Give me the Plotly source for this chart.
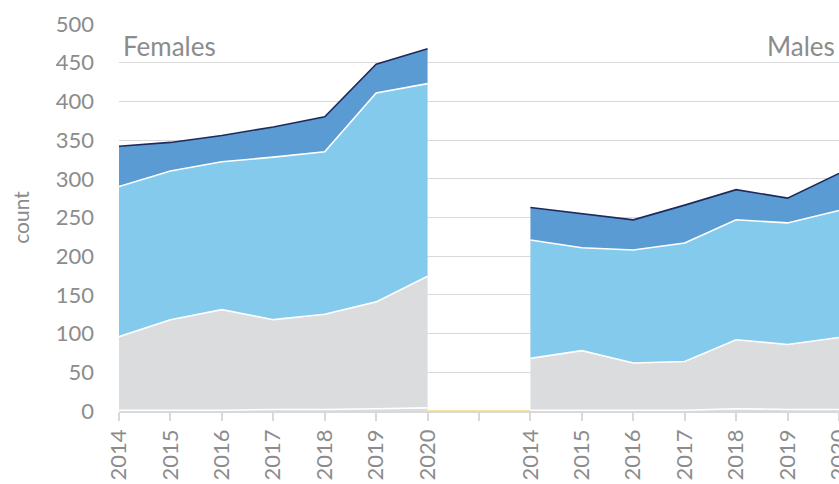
import plotly.graph_objects as go

YEARS = ["2014", "2015", "2016", "2017", "2018", "2019", "2020"]

# stacked layers, bottom to top
females_other = [1, 1, 1, 2, 2, 3, 4]
females_grey = [95, 117, 130, 116, 123, 138, 170]
females_light = [194, 192, 191, 210, 210, 270, 249]
females_dark = [52, 37, 34, 39, 45, 37, 45]

males_other = [1, 1, 1, 1, 3, 2, 2]
males_grey = [67, 77, 61, 63, 89, 84, 93]
males_light = [153, 133, 146, 153, 155, 157, 164]
males_dark = [42, 44, 39, 49, 39, 32, 48]

GAP_VALUES = [0, 0, 0]

GREY_TEXT = "#8c8c8c"
GRID = "#d9d9d9"
LAYERS = [
    ("other", "#dcdcde", "white"),
    ("grey", "#dbdcde", "white"),
    ("light", "#84caed", "white"),
    ("dark", "#5b9bd3", "#1f2a5c"),
]

n = len(YEARS)
x_f = list(range(n))
x_m = list(range(n + 1, 2 * n + 1))
x_gap = [n - 1, n, n + 1]

fig = go.Figure()

fig.add_trace(go.Scatter(
    x=x_gap, y=GAP_VALUES, mode="lines",
    line=dict(color="#f2c744", width=1), hoverinfo="skip", showlegend=False,
))

for group, xs, series in [
    ("f", x_f, [females_other, females_grey, females_light, females_dark]),
    ("m", x_m, [males_other, males_grey, males_light, males_dark]),
]:
    for (name, fill, line), vals in zip(LAYERS, series):
        fig.add_trace(go.Scatter(
            x=xs, y=vals, name=name, stackgroup=group, mode="lines",
            line=dict(color=line, width=1.6), fillcolor=fill,
            showlegend=False,
        ))

tickvals = list(range(2 * n + 1))
ticktext = YEARS + [""] + YEARS

fig.update_xaxes(
    range=[0, 2 * n], tickmode="array", tickvals=tickvals, ticktext=ticktext,
    tickangle=-90, showgrid=False, zeroline=False,
    showline=True, linecolor=GRID, linewidth=1.5,
    ticks="outside", ticklen=8, tickcolor=GRID, tickwidth=1.5,
    ticklabeloverflow="allow", automargin=False,
    tickfont=dict(size=22, color=GREY_TEXT),
)
fig.update_yaxes(
    range=[0, 500], dtick=50, showgrid=True, gridcolor=GRID, gridwidth=1.4,
    zeroline=False, showline=False, ticklabelstandoff=24, automargin=False,
    tickfont=dict(size=22, color=GREY_TEXT),
    title=dict(text="count", font=dict(size=21, color=GREY_TEXT), standoff=20),
)

fig.add_annotation(x=0, y=1.0, xref="paper", yref="paper", xanchor="left", yanchor="top",
                   xshift=2, yshift=-4, text="Females", showarrow=False,
                   font=dict(size=26, color=GREY_TEXT))
fig.add_annotation(x=1, y=1.0, xref="paper", yref="paper", xanchor="right", yanchor="top",
                   xshift=-2, yshift=-4, text="Males", showarrow=False,
                   font=dict(size=26, color=GREY_TEXT))

fig.update_layout(
    width=839, height=484,
    plot_bgcolor="white", paper_bgcolor="white",
    font=dict(family="Lato, sans-serif", color=GREY_TEXT),
    margin=dict(l=119, r=0, t=24, b=73),
    showlegend=False,
)

fig.write_html("out.html", config={"displayModeBar": False},
               post_script="document.body.style.margin='0';")
